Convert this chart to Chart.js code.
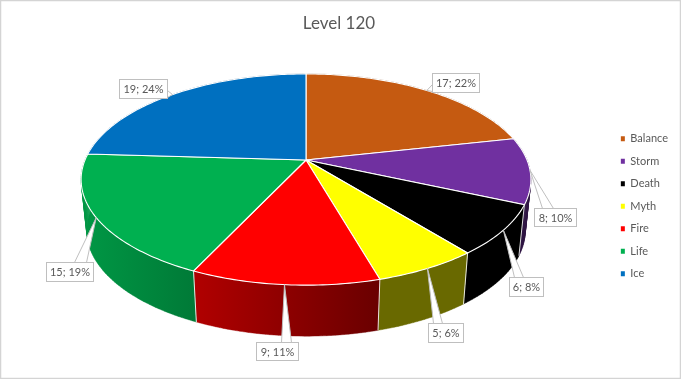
<!DOCTYPE html>
<html><head><meta charset="utf-8">
<style>html,body{margin:0;padding:0;background:#fff}canvas{display:block}</style>
<script src="https://cdn.jsdelivr.net/npm/chart.js@4"></script>
</head><body><canvas id="c" width="681" height="379"></canvas>
<script>
const categories = ["Balance","Storm","Death","Myth","Fire","Life","Ice"];
const seriesValues = [17,8,6,5,9,15,19];
const percentLabels = ["22%","10%","8%","6%","11%","19%","24%"];
const sliceColors = ["#C55A11","#7030A0","#000000","#FFFF00","#FF0000","#00B050","#0070C0"];
const chartTitle = "Level 120";

// label callout layout: box [left, top, width, height], wedge base [x1,y1,x2,y2]
const callouts = [
  {box:[432,73,47,19], base:[432,84,432,91]},
  {box:[534,208,42,18], base:[542,208,553,208]},
  {box:[509,277,34,19], base:[514,277,523,277]},
  {box:[428,323,35,19], base:[433,323,442,323]},
  {box:[256,342,42,18], base:[281,342,291,342]},
  {box:[46,262,47,19], base:[74,262,86,262]},
  {box:[119,79,48,19], base:[167,90,167,97]}
];
const CX=306, CY=160, RX=221, RY=102, K=0.185, DEPTH=51, BOTTOM_SCALE=0.975;
const FONT='Lato, "Open Sans", sans-serif';

function top3(angle){
  const u=Math.cos(angle), v=Math.sin(angle), w=1-K*v;
  return [CX+RX*u/w, CY+RY*v/w];
}
function bottom3(angle){
  const p=top3(angle);
  return [CX+(p[0]-CX)*BOTTOM_SCALE, p[1]+DEPTH];
}
function shadeAt(x){
  if(x<=90) return .85;
  if(x>=380) return .41;
  return .85-(x-90)/290*.44;
}
function shadeColor(hex,f){
  const n=parseInt(hex.slice(1),16);
  return `rgb(${Math.round((n>>16&255)*f)},${Math.round((n>>8&255)*f)},${Math.round((n&255)*f)})`;
}
function trace(ctx,fn,a,b,first){
  const N=Math.max(8,Math.ceil(Math.abs(b-a)*60));
  for(let i=0;i<=N;i++){
    const p=fn(a+(b-a)*i/N);
    if(i===0&&first) ctx.moveTo(p[0],p[1]); else ctx.lineTo(p[0],p[1]);
  }
}
function wallPath(ctx,a,b){
  const N=Math.max(8,Math.ceil(Math.abs(b-a)*60));
  ctx.beginPath();
  for(let i=0;i<N;i++){
    const t1=a+(b-a)*i/N,t2=a+(b-a)*(i+1)/N;
    const p1=top3(t1),p2=top3(t2),q2=bottom3(t2),q1=bottom3(t1);
    ctx.moveTo(p1[0],p1[1]);ctx.lineTo(p2[0],p2[1]);ctx.lineTo(q2[0],q2[1]);ctx.lineTo(q1[0],q1[1]);ctx.closePath();
  }
}
const pie3d={
  id:'pie3d',
  beforeDraw(chart){
    const ctx=chart.ctx;
    ctx.save();
    ctx.strokeStyle='#d4d4d4';ctx.lineWidth=1.5;
    ctx.strokeRect(0.5,0.5,chart.width-1,chart.height-1);
    ctx.restore();
  },
  beforeDatasetsDraw(chart){
    const ctx=chart.ctx, arcs=chart.getDatasetMeta(0).data;
    ctx.save();
    // side walls
    arcs.forEach((arc,i)=>{
      const a=arc.startAngle,b=arc.endAngle;
      wallPath(ctx,a,b);
      const x1=Math.min(top3(a)[0],top3(b)[0]),x2=Math.max(top3(a)[0],top3(b)[0]);
      const g=ctx.createLinearGradient(x1,0,x2+1,0);
      g.addColorStop(0,shadeColor(sliceColors[i],shadeAt(x1)));
      g.addColorStop(1,shadeColor(sliceColors[i],shadeAt(x2)));
      ctx.fillStyle=g;ctx.fill();
      ctx.strokeStyle=g;ctx.lineWidth=.4;ctx.stroke();
    });
    // boundary lines on the wall
    ctx.strokeStyle='rgba(255,255,255,.85)';ctx.lineWidth=1;
    arcs.forEach(arc=>{
      const s=Math.sin(arc.startAngle);
      if(s>-0.05){
        const p=top3(arc.startAngle),q=bottom3(arc.startAngle);
        ctx.beginPath();ctx.moveTo(p[0],p[1]);ctx.lineTo(q[0],q[1]);ctx.stroke();
      }
    });
    // top faces
    arcs.forEach((arc,i)=>{
      ctx.beginPath();
      ctx.moveTo(CX,CY);
      trace(ctx,top3,arc.startAngle,arc.endAngle,false);
      ctx.closePath();
      ctx.fillStyle=sliceColors[i];ctx.fill();
      ctx.strokeStyle='#fff';ctx.lineWidth=1.1;
      ctx.stroke();
    });
    // callouts
    ctx.font='11px '+FONT;ctx.textAlign='center';ctx.textBaseline='middle';
    arcs.forEach((arc,i)=>{
      const c=callouts[i],[x,y,w,h]=c.box,[bx1,by1,bx2,by2]=c.base;
      const t=top3((arc.startAngle+arc.endAngle)/2);
      ctx.fillStyle='#fff';ctx.strokeStyle='#bfbfbf';ctx.lineWidth=1;
      ctx.beginPath();ctx.moveTo(bx1+.5,by1+.5);ctx.lineTo(t[0],t[1]);ctx.lineTo(bx2+.5,by2+.5);ctx.closePath();
      ctx.fill();ctx.stroke();
      ctx.fillRect(x+.5,y+.5,w,h);ctx.strokeRect(x+.5,y+.5,w,h);
      ctx.fillStyle='#595959';
      ctx.fillText(seriesValues[i]+'; '+percentLabels[i],x+w/2+.5,y+h/2+1);
    });
    ctx.restore();
    return false;
  }
};
new Chart(document.getElementById('c'),{
  type:'pie',
  data:{labels:categories,datasets:[{data:seriesValues,backgroundColor:sliceColors,borderWidth:0}]},
  options:{
    responsive:false,animation:false,
    layout:{padding:{top:12,right:3,bottom:0,left:0}},
    plugins:{
      tooltip:{enabled:false},
      title:{display:true,text:chartTitle,color:'#595959',font:{family:FONT,size:17,weight:'normal'},padding:{top:1,bottom:0}},
      legend:{position:'right',fullSize:false,
        labels:{boxWidth:4,boxHeight:5,padding:11.5,color:'#595959',font:{family:FONT,size:11},
          generateLabels(chart){return categories.map((c,i)=>({text:c,fillStyle:sliceColors[i],strokeStyle:sliceColors[i],lineWidth:0,index:i,fontColor:'#595959'}));}
        }}
    }
  },
  plugins:[pie3d]
});
</script></body></html>
